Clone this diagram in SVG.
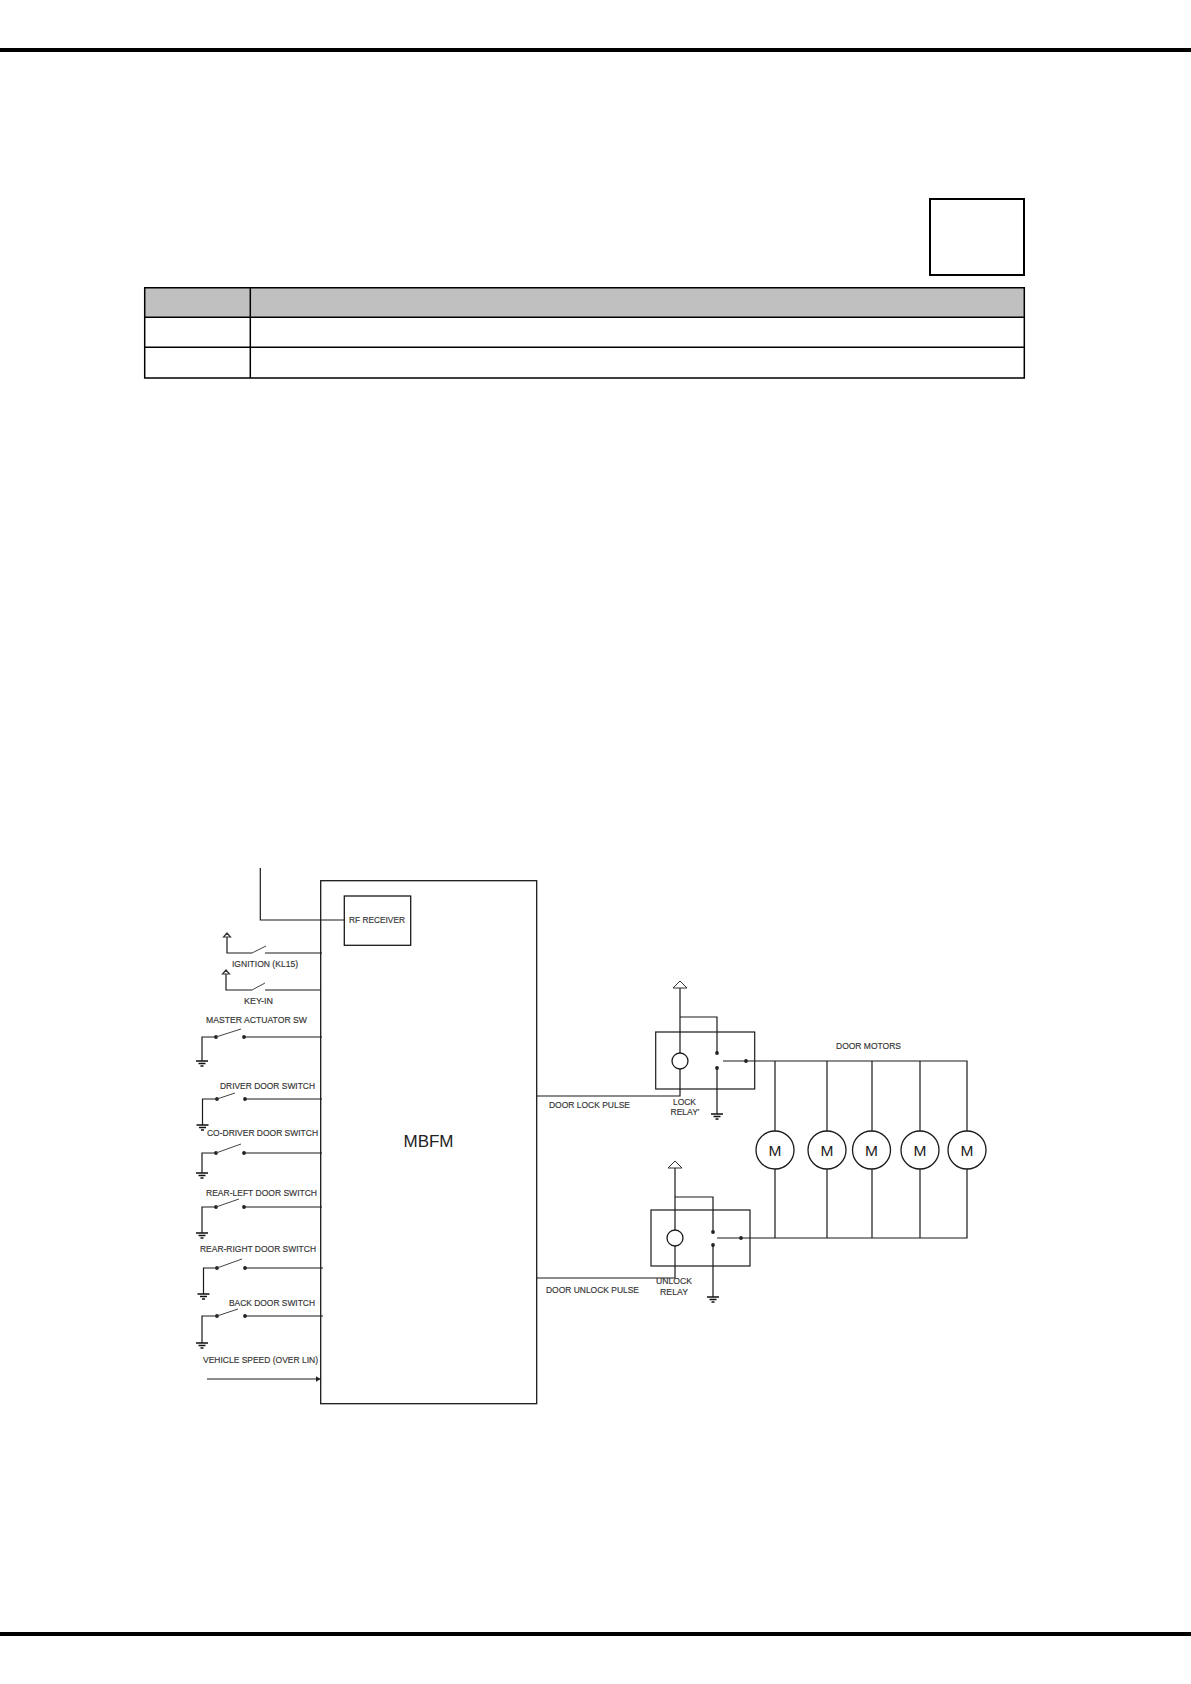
<svg xmlns="http://www.w3.org/2000/svg" width="1191" height="1684" viewBox="0 0 1191 1684">
<style>
.l{fill:none;stroke:#1a1a1a;stroke-width:1.2}
.b{fill:#fff;stroke:#1a1a1a;stroke-width:1.3}
.sw{fill:none;stroke:#444;stroke-width:1}
.d{fill:#222;stroke:none}
.g{fill:none;stroke:#111;stroke-width:1.4}
.t{font-family:"Liberation Sans",Arial,sans-serif;font-size:8.6px;fill:#333;stroke:#333;stroke-width:.15}
.m{font-family:"Liberation Sans",Arial,sans-serif;font-size:15.500px;fill:#222;text-anchor:middle}
.rule{stroke:#000;stroke-width:4}
.tb{fill:none;stroke:#000;stroke-width:1.5}
</style>
<defs>
<g id="gnd"><path class="g" d="M-6 0H6M-3.500 2.500H3.500M-1.500 5H1.500"/></g>
<g id="sw"><circle class="d" cx="0" cy="0" r="1.900"/><circle class="d" cx="28" cy="0" r="1.900"/></g>
<path id="up" d="M-7 0L0-7L7 0Z" fill="#fff" stroke="#333" stroke-width="1"/>
<path id="upS" d="M-3.500 0L0-4L3.500 0Z" fill="#fff" stroke="#333" stroke-width="1.200"/>
<marker id="arr" markerUnits="userSpaceOnUse" markerWidth="6" markerHeight="6" refX="5" refY="3" orient="auto"><path d="M0 0L5 3L0 6Z" fill="#222"/></marker>
</defs>
<g id="page">
<line class="rule" x1="0" y1="50" x2="1191" y2="50"/>
<line class="rule" x1="0" y1="1634" x2="1191" y2="1634"/>
<rect x="930" y="199" width="94" height="76" fill="#fff" stroke="#000" stroke-width="2"/>
<rect x="144.700" y="287.700" width="879.600" height="29.600" fill="#c0c0c0"/>
<path class="tb" d="M144.700 287.700H1024.300V378H144.700ZM144.700 317.300H1024.300M144.700 347.300H1024.300M250.300 287.700V378"/>
</g>
<g id="mbfm"><rect class="b" x="320.700" y="880.700" width="216" height="523"/><text class="m" x="428.500" y="1147" style="font-size:17px">MBFM</text></g>
<g id="rf-receiver"><rect class="b" x="344.300" y="896" width="66.400" height="49.300"/><text class="t" x="349" y="923" textLength="56" lengthAdjust="spacingAndGlyphs">RF RECEIVER</text></g>
<g id="connectors">
<path class="l" d="M260.300 868V920H344.300"/>
<path class="l" d="M227 937V953H252M265 953H322"/>
<path class="l" d="M226 974V990H252M265 990H321"/>
<path class="l" d="M216 1037H202V1061M244 1037H322"/>
<path class="l" d="M217 1099H202.500V1125M245 1099H322"/>
<path class="l" d="M216 1153H202V1173M245 1153H322"/>
<path class="l" d="M216 1207H202V1233M245 1207H322"/>
<path class="l" d="M217 1268H203.500V1294M245 1268H323"/>
<path class="l" d="M217 1316H202V1343M245 1316H323"/>
<path class="l" d="M207 1379H320.500" marker-end="url(#arr)"/>
<path class="l" d="M537 1096H680V988"/>
<path class="l" d="M680 1017H717V1053M717 1068V1114"/>
<path class="l" d="M723 1061H967V1131M775 1061V1131M827 1061V1131M872 1061V1131M920 1061V1131"/>
<path class="l" d="M537 1278H675V1168"/>
<path class="l" d="M675 1197H713V1232M713 1245V1297"/>
<path class="l" d="M717 1238H967V1169M775 1238V1169M827 1238V1169M872 1238V1169M920 1238V1169"/>
</g>
<g id="ignition"><use href="#upS" x="227" y="937"/><path class="sw" d="M252 953L266 946"/><text class="t" x="232" y="967" textLength="66" lengthAdjust="spacingAndGlyphs">IGNITION (KL15)</text></g>
<g id="key-in"><use href="#upS" x="226" y="974"/><path class="sw" d="M252 990L265 983"/><text class="t" x="244" y="1004" textLength="29" lengthAdjust="spacingAndGlyphs">KEY-IN</text></g>
<g id="master"><use href="#sw" x="216" y="1037"/><path class="sw" d="M216 1037L241 1029"/><use href="#gnd" x="202" y="1061"/><text class="t" x="206" y="1023" textLength="101" lengthAdjust="spacingAndGlyphs">MASTER ACTUATOR SW</text></g>
<g id="driver"><use href="#sw" x="217" y="1099"/><path class="sw" d="M217 1099L235 1093"/><use href="#gnd" x="202.500" y="1125"/><text class="t" x="220" y="1089" textLength="95" lengthAdjust="spacingAndGlyphs">DRIVER DOOR SWITCH</text></g>
<g id="co-driver"><use href="#sw" x="216" y="1153"/><path class="sw" d="M216 1153L241 1144"/><use href="#gnd" x="202" y="1173"/><text class="t" x="207" y="1136" textLength="111" lengthAdjust="spacingAndGlyphs">CO-DRIVER DOOR SWITCH</text></g>
<g id="rear-left"><use href="#sw" x="216" y="1207"/><path class="sw" d="M216 1207L239 1199"/><use href="#gnd" x="202" y="1233"/><text class="t" x="206" y="1196" textLength="111" lengthAdjust="spacingAndGlyphs">REAR-LEFT DOOR SWITCH</text></g>
<g id="rear-right"><use href="#sw" x="217" y="1268"/><path class="sw" d="M217 1268L242 1259"/><use href="#gnd" x="203.500" y="1294"/><text class="t" x="200" y="1252" textLength="116" lengthAdjust="spacingAndGlyphs">REAR-RIGHT DOOR SWITCH</text></g>
<g id="back"><use href="#sw" x="217" y="1316"/><path class="sw" d="M217 1316L238 1309"/><use href="#gnd" x="202" y="1343"/><text class="t" x="229" y="1306" textLength="86" lengthAdjust="spacingAndGlyphs">BACK DOOR SWITCH</text></g>
<g id="vehicle-speed"><text class="t" x="203" y="1363" textLength="115" lengthAdjust="spacingAndGlyphs">VEHICLE SPEED (OVER LIN)</text></g>
<g id="lock-relay">
<rect class="l" x="655.700" y="1032" width="99" height="57"/>
<circle class="b" cx="680" cy="1061" r="8"/>
<circle class="d" cx="717" cy="1053" r="1.900"/><circle class="d" cx="717" cy="1068" r="1.900"/><circle class="d" cx="746" cy="1061" r="1.900"/>
<use href="#up" x="680" y="988"/><use href="#gnd" x="717" y="1114"/>
<text class="t" x="673" y="1105" textLength="23" lengthAdjust="spacingAndGlyphs">LOCK</text>
<text class="t" x="670.500" y="1115" textLength="29" lengthAdjust="spacingAndGlyphs">RELAY'</text>
<text class="t" x="549" y="1108" textLength="81" lengthAdjust="spacingAndGlyphs">DOOR LOCK PULSE</text>
</g>
<g id="unlock-relay">
<rect class="l" x="651" y="1210" width="99" height="56"/>
<circle class="b" cx="675" cy="1238" r="8"/>
<circle class="d" cx="713" cy="1232" r="1.900"/><circle class="d" cx="713" cy="1245" r="1.900"/><circle class="d" cx="741" cy="1238" r="1.900"/>
<use href="#up" x="675" y="1168"/><use href="#gnd" x="713" y="1297"/>
<text class="t" x="656" y="1284" textLength="36" lengthAdjust="spacingAndGlyphs">UNLOCK</text>
<text class="t" x="660" y="1295" textLength="28" lengthAdjust="spacingAndGlyphs">RELAY</text>
<text class="t" x="546" y="1293" textLength="93" lengthAdjust="spacingAndGlyphs">DOOR UNLOCK PULSE</text>
</g>
<g id="door-motors"><text class="t" x="836" y="1049" textLength="65" lengthAdjust="spacingAndGlyphs">DOOR MOTORS</text></g>
<g id="motor-1"><circle class="b" cx="775" cy="1150" r="19"/><text class="m" x="775" y="1155.500">M</text></g>
<g id="motor-2"><circle class="b" cx="827" cy="1150" r="19"/><text class="m" x="827" y="1155.500">M</text></g>
<g id="motor-3"><circle class="b" cx="871.500" cy="1150" r="19"/><text class="m" x="871.500" y="1155.500">M</text></g>
<g id="motor-4"><circle class="b" cx="920" cy="1150" r="19"/><text class="m" x="920" y="1155.500">M</text></g>
<g id="motor-5"><circle class="b" cx="967" cy="1150" r="19"/><text class="m" x="967" y="1155.500">M</text></g>
</svg>
